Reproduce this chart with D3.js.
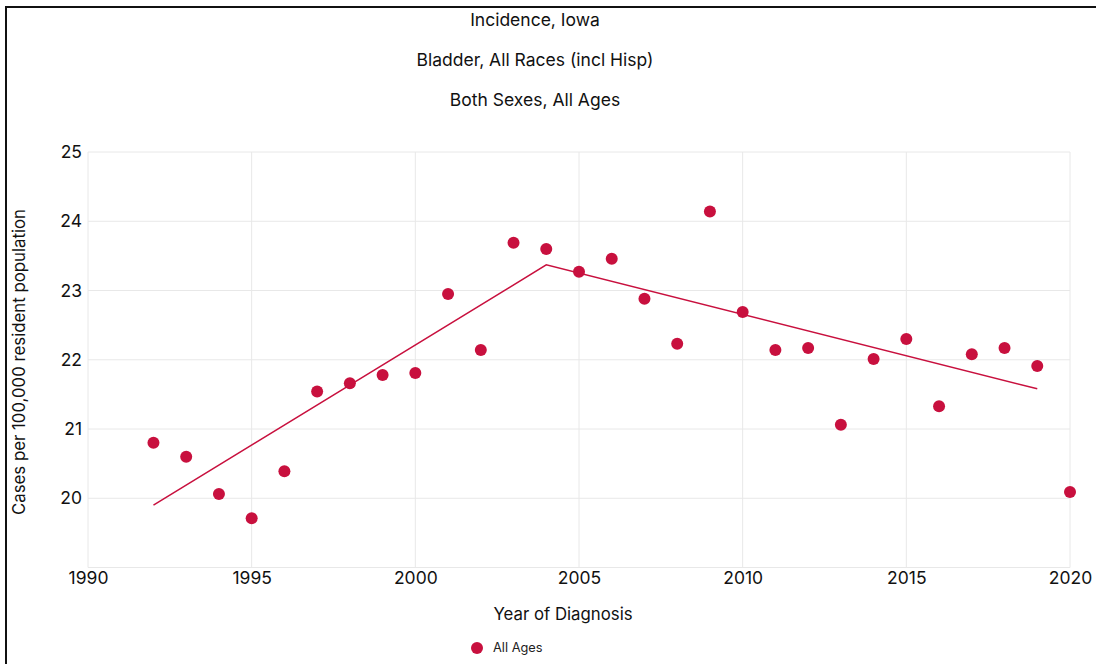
<!DOCTYPE html>
<html>
<head>
<meta charset="utf-8">
<script src="https://cdn.jsdelivr.net/npm/d3@7"></script>
<style>
  body { margin: 0; background: #fff; }
  svg { display: block; font-family: Inter, "Liberation Sans", sans-serif; }
</style>
</head>
<body>
<svg width="1096" height="664"></svg>
<script>
// chart data
var years = [1992, 1993, 1994, 1995, 1996, 1997, 1998, 1999, 2000, 2001,
             2002, 2003, 2004, 2005, 2006, 2007, 2008, 2009, 2010, 2011,
             2012, 2013, 2014, 2015, 2016, 2017, 2018, 2019, 2020];
var rates = [20.80, 20.60, 20.06, 19.71, 20.39, 21.54, 21.66, 21.78, 21.81, 22.95,
             22.14, 23.69, 23.60, 23.27, 23.46, 22.88, 22.23, 24.14, 22.69, 22.14,
             22.17, 21.06, 22.01, 22.30, 21.33, 22.08, 22.17, 21.91, 20.09];
var trendYears = [1992, 2004, 2019];
var trendRates = [19.90, 23.37, 21.58];
var xTicks = [1990, 1995, 2000, 2005, 2010, 2015, 2020];
var yTicks = [20, 21, 22, 23, 24, 25];
var titleLines = ["Incidence, Iowa", "Bladder, All Races (incl Hisp)", "Both Sexes, All Ages"];
var seriesName = "All Ages";

var svg = d3.select("svg"),
    width = +svg.attr("width"),
    height = +svg.attr("height");

var red = "#c8103e";

var x = d3.scaleLinear().domain([1990, 2020]).range([88, 1070]);
var y = d3.scaleLinear().domain([19, 25]).range([567.5, 152]);

// frame
svg.append("rect")
    .attr("x", 6).attr("y", 7)
    .attr("width", 1200).attr("height", 800)
    .attr("fill", "none")
    .attr("stroke", "#111")
    .attr("stroke-width", 2);

// titles
svg.selectAll(".title")
  .data(titleLines)
  .enter().append("text")
    .attr("class", "title")
    .attr("x", 535)
    .attr("y", function(d, i) { return 20 + i * 40; })
    .attr("dy", "0.35em")
    .attr("text-anchor", "middle")
    .attr("font-size", 17.5)
    .attr("fill", "#111")
    .text(function(d) { return d; });

// grid
var grid = svg.append("g").attr("class", "grid");
grid.selectAll(".gx")
  .data(xTicks)
  .enter().append("line")
    .attr("x1", function(d) { return x(d); })
    .attr("x2", function(d) { return x(d); })
    .attr("y1", y(25)).attr("y2", y(19))
    .attr("stroke", "#e8e8e8");
grid.selectAll(".gy")
  .data(yTicks.concat([19]))
  .enter().append("line")
    .attr("x1", x(1990)).attr("x2", x(2020))
    .attr("y1", function(d) { return y(d); })
    .attr("y2", function(d) { return y(d); })
    .attr("stroke", "#e8e8e8");

// axes
var yAxis = svg.append("g")
    .attr("transform", "translate(" + (x(1990) - 6) + ",0)")
    .call(d3.axisLeft(y).tickValues(yTicks).tickFormat(d3.format("d")).tickSize(0).tickPadding(0));
yAxis.select(".domain").remove();
yAxis.selectAll("text")
    .attr("font-size", 17.5)
    .attr("font-family", "Inter, 'Liberation Sans', sans-serif")
    .attr("fill", "#111");

var xAxis = svg.append("g")
    .attr("transform", "translate(0," + (y(19) + 4) + ")")
    .call(d3.axisBottom(x).tickValues(xTicks).tickFormat(d3.format("d")).tickSize(0).tickPadding(0));
xAxis.select(".domain").remove();
xAxis.selectAll("text")
    .attr("font-size", 17.5)
    .attr("font-family", "Inter, 'Liberation Sans', sans-serif")
    .attr("fill", "#111");

// axis titles
svg.append("text")
    .attr("transform", "translate(19,362) rotate(-90)")
    .attr("dy", "0.35em")
    .attr("text-anchor", "middle")
    .attr("font-size", 16.8)
    .attr("fill", "#111")
    .text("Cases per 100,000 resident population");

svg.append("text")
    .attr("x", 563)
    .attr("y", 614)
    .attr("dy", "0.35em")
    .attr("text-anchor", "middle")
    .attr("font-size", 16.8)
    .attr("fill", "#111")
    .text("Year of Diagnosis");

// trend line
var line = d3.line()
    .x(function(d) { return x(d[0]); })
    .y(function(d) { return y(d[1]); });

svg.append("path")
    .datum(d3.zip(trendYears, trendRates))
    .attr("d", line)
    .attr("fill", "none")
    .attr("stroke", red)
    .attr("stroke-width", 1.5);

// points
svg.append("g")
  .selectAll("circle")
  .data(d3.zip(years, rates))
  .enter().append("circle")
    .attr("cx", function(d) { return x(d[0]); })
    .attr("cy", function(d) { return y(d[1]); })
    .attr("r", 6)
    .attr("fill", red);

// legend
var legend = svg.append("g").attr("transform", "translate(477,648)");
legend.append("circle").attr("r", 6).attr("fill", red);
legend.append("text")
    .attr("x", 16)
    .attr("dy", "0.35em")
    .attr("font-size", 12.8)
    .attr("fill", "#222")
    .text(seriesName);
</script>
</body>
</html>
